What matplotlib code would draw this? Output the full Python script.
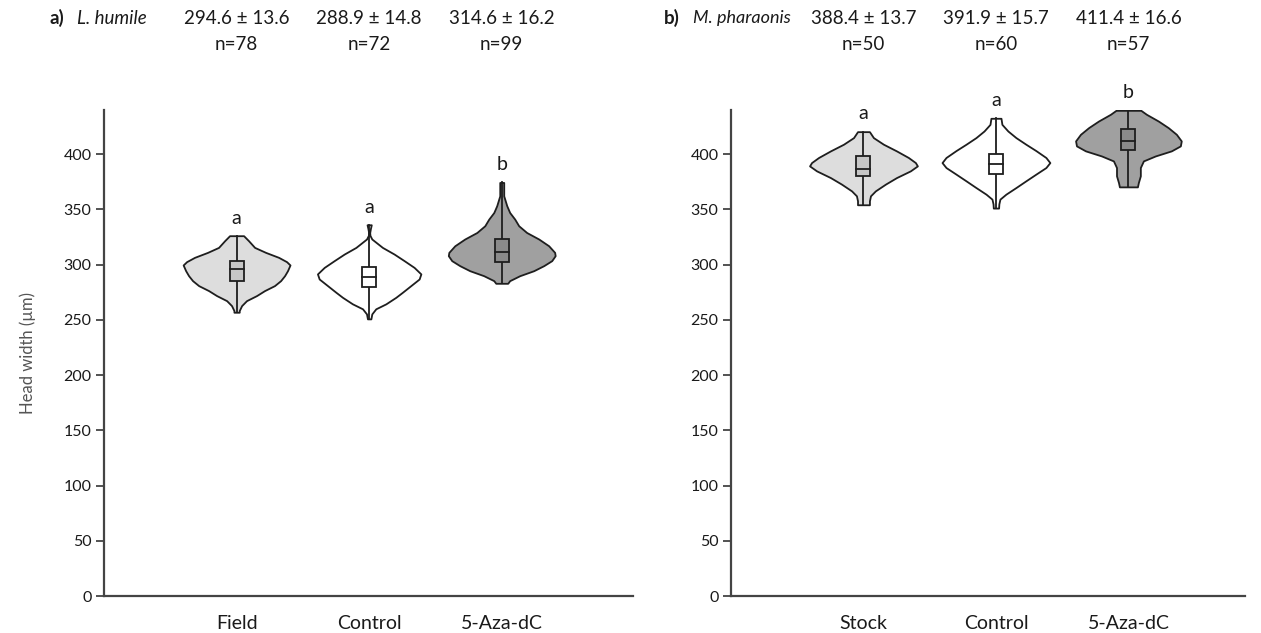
import matplotlib
matplotlib.use("Agg")
import matplotlib.pyplot as plt
import matplotlib.transforms as mtransforms
from matplotlib.patches import Rectangle
import numpy as np

plt.rcParams['font.family'] = ['Lato', 'DejaVu Sans']

# ---- data ----
groups_a = ['Field', 'Control', '5-Aza-dC']
groups_b = ['Stock', 'Control', '5-Aza-dC']
mean_sd_a = ['294.6 ± 13.6', '288.9 ± 14.8', '314.6 ± 16.2']
mean_sd_b = ['388.4 ± 13.7', '391.9 ± 15.7', '411.4 ± 16.6']
n_a = [78, 72, 99]
n_b = [50, 60, 57]
letters_a = ['a', 'a', 'b']
letters_b = ['a', 'a', 'b']

# violin outlines: head width (um) and half-width of the density (x units)
field_y = [256.9, 258.4, 262.9, 267.4, 272.0, 276.5, 281.0, 285.5, 290.0, 294.5, 299.7, 302.7, 306.6, 311.1, 315.6, 321.7, 326.2]
field_w = [0.020, 0.020, 0.038, 0.075, 0.151, 0.211, 0.286, 0.332, 0.362, 0.384, 0.403, 0.377, 0.317, 0.219, 0.136, 0.090, 0.053]
ctrl_a_y = [250.9, 255.4, 260.0, 264.5, 270.4, 275.0, 281.0, 287.0, 291.6, 297.5, 303.6, 309.6, 315.6, 323.2, 326.5, 329.0, 333.0, 336.1]
ctrl_a_w = [0.013, 0.020, 0.050, 0.126, 0.201, 0.251, 0.314, 0.377, 0.390, 0.339, 0.264, 0.188, 0.100, 0.020, 0.006, 0.004, 0.010, 0.016]
aza_a_y = [283.1, 285.5, 290.0, 294.5, 299.1, 303.6, 308.1, 311.1, 317.1, 323.2, 329.1, 335.2, 341.2, 347.2, 353.3, 362.3, 374.4]
aza_a_w = [0.045, 0.060, 0.136, 0.241, 0.317, 0.377, 0.403, 0.399, 0.354, 0.279, 0.188, 0.128, 0.098, 0.060, 0.038, 0.015, 0.015]

stock_y = [354.2, 357.8, 362.3, 366.8, 372.9, 378.8, 384.9, 389.4, 392.4, 397.0, 403.0, 409.0, 415.0, 420.4]
stock_w = [0.045, 0.045, 0.053, 0.090, 0.166, 0.249, 0.354, 0.407, 0.392, 0.339, 0.249, 0.151, 0.075, 0.045]
ctrl_b_y = [351.2, 355.0, 359.3, 363.8, 369.8, 375.9, 381.9, 387.9, 392.4, 397.0, 403.3, 409.0, 415.0, 421.0, 427.0, 432.5]
ctrl_b_w = [0.020, 0.022, 0.030, 0.075, 0.151, 0.226, 0.301, 0.377, 0.407, 0.377, 0.301, 0.226, 0.151, 0.090, 0.045, 0.038]
aza_b_y = [370.4, 374.3, 380.4, 387.9, 393.9, 398.4, 403.0, 407.5, 412.0, 418.0, 424.0, 430.0, 436.1, 439.7]
aza_b_w = [0.068, 0.075, 0.090, 0.090, 0.113, 0.203, 0.324, 0.392, 0.399, 0.362, 0.301, 0.226, 0.136, 0.094]

# box: q1, median, q3
box_a = [(285.5, 296.0, 303.6), (279.5, 288.5, 298.2), (302.7, 311.7, 323.2)]
box_b = [(380.4, 387.0, 398.4), (382.5, 391.0, 400.5), (403.6, 412.0, 422.6)]

violin_colors = ['#dddddd', '#ffffff', '#a0a0a0']
box_colors = ['#c6c6c6', '#ffffff', '#8a8a8a']

edge = '#1e1e1e'
spine_col = '#444444'
text_col = '#1a1a1a'

fig = plt.figure(figsize=(12.61, 6.33), dpi=100)
ax_a = fig.add_axes([104 / 1261, 1 - 596 / 633, 529 / 1261, 486 / 633])
ax_b = fig.add_axes([731 / 1261, 1 - 596 / 633, 514 / 1261, 486 / 633])


def draw_panel(ax, profiles, boxes, groups, letters, xmax):
    for i, ((ys, ws), (q1, med, q3)) in enumerate(zip(profiles, boxes)):
        pos = i + 1
        ys = np.array(ys)
        ws = np.array(ws)
        ax.fill_betweenx(ys, pos - ws, pos + ws, facecolor=violin_colors[i],
                         edgecolor=edge, linewidth=1.3, zorder=2)
        ax.plot([pos, pos], [ys.min(), ys.max()], color=edge, lw=1.3, zorder=3)
        bw = 0.053
        ax.add_patch(Rectangle((pos - bw, q1), 2 * bw, q3 - q1,
                               facecolor=box_colors[i], edgecolor=edge,
                               linewidth=1.3, zorder=4))
        ax.plot([pos - bw, pos + bw], [med, med], color=edge, lw=1.3, zorder=5)
        ax.text(pos, ys.max() + 16, letters[i], ha='center', va='center',
                fontsize=14, color=text_col, clip_on=False)

    ax.set_xlim(0, xmax)
    ax.set_ylim(0, 440)
    ax.set_yticks(np.arange(0, 401, 50))
    ax.set_xticks([1, 2, 3])
    ax.set_xticklabels(groups, fontsize=14, color=text_col)
    ax.tick_params(axis='x', length=0, pad=14)
    ax.tick_params(axis='y', direction='out', length=6, width=1.3,
                   color=spine_col, labelsize=11.5, labelcolor=text_col, pad=3)
    for s in ['top', 'right']:
        ax.spines[s].set_visible(False)
    for s in ['left', 'bottom']:
        ax.spines[s].set_color(spine_col)
        ax.spines[s].set_linewidth(1.6)


draw_panel(ax_a, [(field_y, field_w), (ctrl_a_y, ctrl_a_w), (aza_a_y, aza_a_w)],
           box_a, groups_a, letters_a, 3.99)
draw_panel(ax_b, [(stock_y, stock_w), (ctrl_b_y, ctrl_b_w), (aza_b_y, aza_b_w)],
           box_b, groups_b, letters_b, 3.88)

ax_a.set_ylabel('Head width (µm)', fontsize=12, color='#555555', labelpad=20)

# header rows
for ax, stats, ns in [(ax_a, mean_sd_a, n_a), (ax_b, mean_sd_b, n_b)]:
    tr = mtransforms.blended_transform_factory(ax.transData, fig.transFigure)
    for i, (s, n) in enumerate(zip(stats, ns)):
        ax.text(i + 1, 1 - 18 / 633, s, transform=tr, ha='center', va='center',
                fontsize=13.5, color=text_col)
        ax.text(i + 1, 1 - 45 / 633, f'n={n}', transform=tr, ha='center',
                va='center', fontsize=13.5, color=text_col)

fig.text(50 / 1261, 1 - 18 / 633, 'a)', fontsize=13.5, fontweight='bold',
         ha='left', va='center', color=text_col)
fig.text(77 / 1261, 1 - 18 / 633, 'L. humile', fontsize=13.5, style='italic',
         ha='left', va='center', color=text_col)
fig.text(664 / 1261, 1 - 18 / 633, 'b)', fontsize=13.5, fontweight='bold',
         ha='left', va='center', color=text_col)
fig.text(693 / 1261, 1 - 18 / 633, 'M. pharaonis', fontsize=13, style='italic',
         ha='left', va='center', color=text_col)

fig.savefig('out.png', dpi=100)
